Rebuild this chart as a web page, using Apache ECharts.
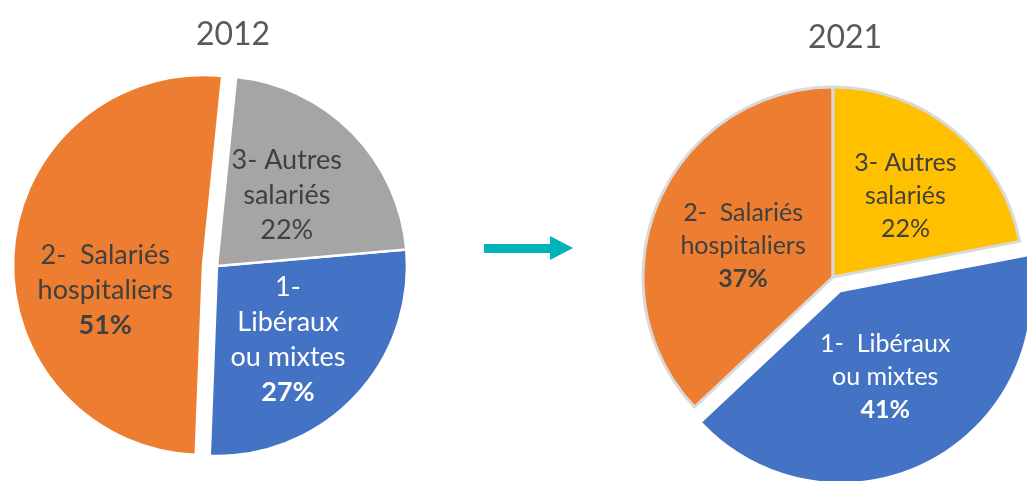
<!DOCTYPE html>
<html>
<head>
<meta charset="utf-8">
<script src="https://cdn.jsdelivr.net/npm/echarts@6/dist/echarts.min.js"></script>
<style>
  html, body { margin: 0; padding: 0; background: #fff; }
  #main { width: 1027px; height: 481px; }
</style>
</head>
<body>
<div id="main"></div>
<script>
// data (same category order for both years)
const categories = ['1- Libéraux ou mixtes', '2- Salariés hospitaliers', '3- Autres salariés'];
const years = ['2012', '2021'];
const values2012 = [27, 51, 22];
const values2021 = [41, 37, 22];
// label text as wrapped in the original
const labels2012 = [['1-', 'Libéraux', 'ou mixtes'], ['2-  Salariés', 'hospitaliers'], ['3- Autres', 'salariés']];
const labels2021 = [['1-  Libéraux', 'ou mixtes'], ['2-  Salariés', 'hospitaliers'], ['3- Autres', 'salariés']];

const colors2012 = ['#4472C4', '#ED7D31', '#A5A5A5'];
const colors2021 = ['#4472C4', '#ED7D31', '#FFC000'];
const textColors = ['#ffffff', '#404040', '#404040'];
const boldPct = [true, true, false];
// small label nudges [dx, dy] per slice, per pie
const nudges = [
  [[0, 6], [0, 32], [0, -2]],
  [[0, -3], [0, 8], [10, -6]]
];

const FONT = 'Lato';

function buildData(values, labels, colors, selectedIdx, borders) {
  return values.map((v, i) => ({
    name: categories[i],
    value: v,
    selected: i === selectedIdx,
    lines: labels[i],
    itemStyle: Object.assign({ color: colors[i] }, borders[i]),
    label: { color: textColors[i] }
  }));
}

function labelRich(size, lh) {
  return {
    n: { fontFamily: FONT, fontSize: size, lineHeight: lh },
    p: { fontFamily: FONT, fontSize: size, lineHeight: lh, fontWeight: 'bold' }
  };
}

function fmt(p) {
  const lines = p.data.lines.map(l => '{n|' + l + '}');
  lines.push((boldPct[p.dataIndex] ? '{p|' : '{n|') + p.value + '%}');
  return lines.join('\n');
}

function nudge(params) {
  const d = nudges[params.seriesIndex][params.dataIndex];
  return { dx: d[0], dy: d[1] };
}

const white = { borderColor: '#ffffff', borderWidth: 2.5 };
const grey = { borderColor: '#d9d9d9', borderWidth: 3 };
const none = { borderWidth: 0 };

const chart = echarts.init(document.getElementById('main'), null, { renderer: 'canvas' });

chart.setOption({
  animation: false,
  title: [
    {
      text: years[0], left: 228, top: 14, textAlign: 'center',
      textStyle: { fontFamily: FONT, fontSize: 32, fontWeight: 'normal', color: '#595959' }
    },
    {
      text: years[1], left: 840, top: 17, textAlign: 'center',
      textStyle: { fontFamily: FONT, fontSize: 32, fontWeight: 'normal', color: '#595959' }
    }
  ],
  graphic: [
    {
      type: 'polygon',
      shape: { points: [[484, 244], [550, 244], [550, 236], [573, 248], [550, 260], [550, 253], [484, 253]] },
      style: { fill: '#00B3B9' },
      silent: true
    }
  ],
  series: [
    {
      name: years[0],
      type: 'pie',
      center: [217, 266],
      radius: [0, 190],
      startAngle: 5,
      clockwise: true,
      selectedMode: 'multiple',
      selectedOffset: 14,
      silent: true,
      emphasis: { disabled: true },
      data: buildData(values2012, labels2012, colors2012, 1, [white, white, white]),
      label: { show: true, position: 'inside', formatter: fmt, rich: labelRich(27, 35) },
      labelLine: { show: false },
      labelLayout: nudge
    },
    {
      name: years[1],
      type: 'pie',
      center: [833, 277],
      radius: [0, 190],
      startAngle: 10.8,
      clockwise: true,
      selectedMode: 'multiple',
      selectedOffset: 17,
      silent: true,
      emphasis: { disabled: true },
      data: buildData(values2021, labels2021, colors2021, 0, [none, grey, grey]),
      label: { show: true, position: 'inside', formatter: fmt, rich: labelRich(25, 33) },
      labelLine: { show: false },
      labelLayout: nudge
    }
  ]
});
</script>
</body>
</html>
